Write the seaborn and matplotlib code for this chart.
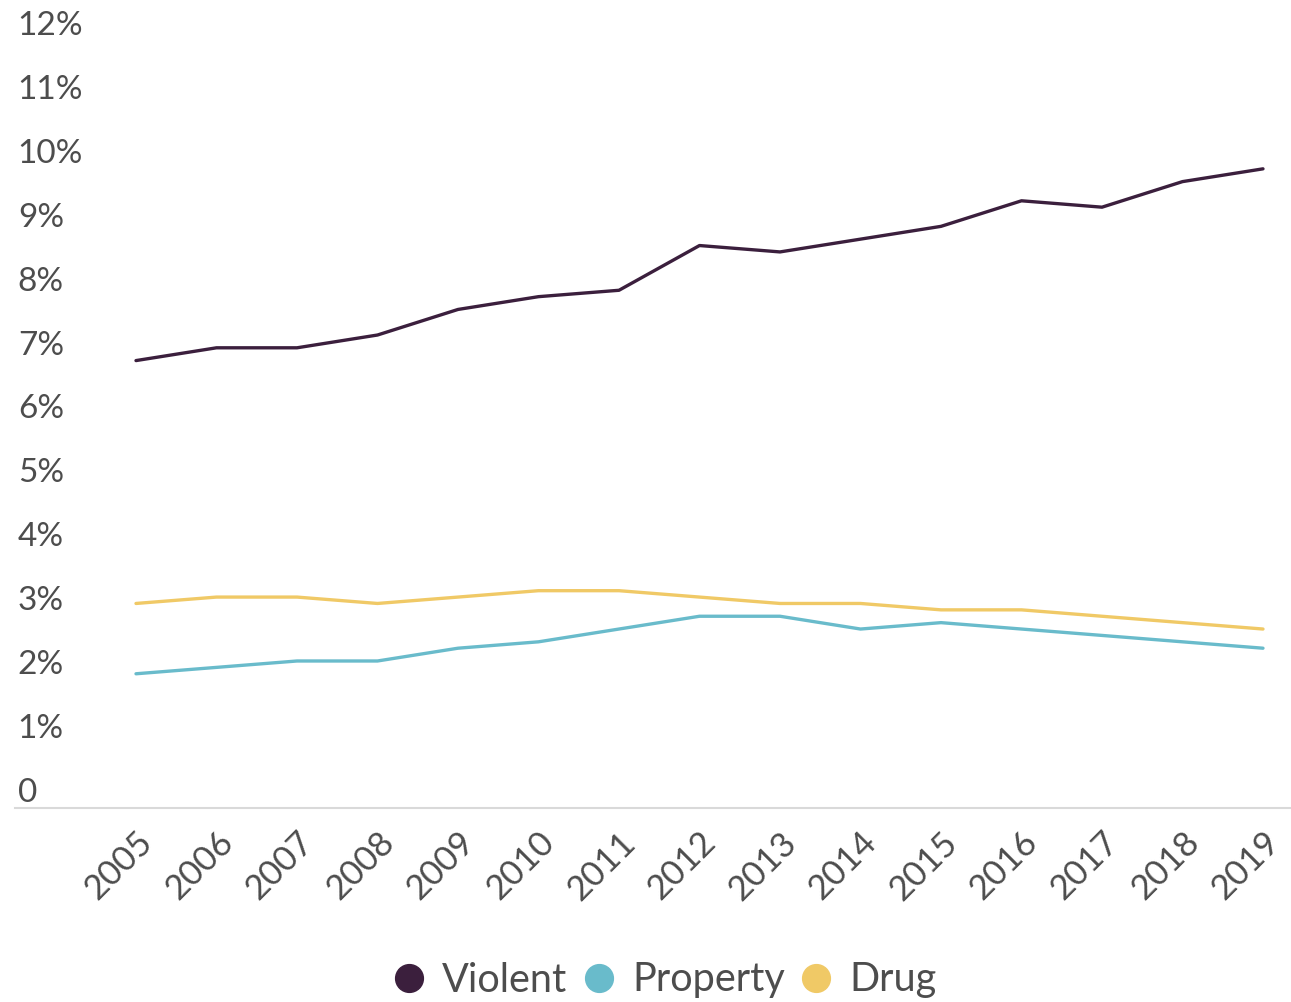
import matplotlib
matplotlib.use("Agg")
import matplotlib.pyplot as plt
import matplotlib.transforms as mtransforms
from matplotlib.lines import Line2D
import seaborn as sns
import pandas as pd

years = list(range(2005, 2020))
violent = [7.0, 7.2, 7.2, 7.4, 7.8, 8.0, 8.1, 8.8, 8.7, 8.9, 9.1, 9.5, 9.4, 9.8, 10.0]
property_ = [2.1, 2.2, 2.3, 2.3, 2.5, 2.6, 2.8, 3.0, 3.0, 2.8, 2.9, 2.8, 2.7, 2.6, 2.5]
drug = [3.2, 3.3, 3.3, 3.2, 3.3, 3.4, 3.4, 3.3, 3.2, 3.2, 3.1, 3.1, 3.0, 2.9, 2.8]
series_names = ["Violent", "Property", "Drug"]
colors = ["#3b1f3d", "#69bbcb", "#f0c966"]
ytick_vals = list(range(0, 13))
ytick_labels = ["0"] + [f"{v}%" for v in range(1, 13)]

df = pd.DataFrame({
    "Year": years * 3,
    "Rate": violent + property_ + drug,
    "Type": sum([[n] * len(years) for n in series_names], []),
})

sns.set_theme(style="white")
plt.rcParams["font.family"] = ["Lato", "DejaVu Sans"]
TXT = "#4d4d4d"

W, H = 1291, 1002
fig = plt.figure(figsize=(W / 100, H / 100), dpi=100)
ax = fig.add_axes([15 / W, 1 - 808 / H, 1 - 15 / W, (808 - 41) / H])

sns.lineplot(data=df, x="Year", y="Rate", hue="Type", palette=colors,
             hue_order=series_names, linewidth=2.4, ax=ax, legend=False)

ax.set_xlim(2003.497, 2003.497 + 1276 / 80.5)
ax.set_ylim(0, 12)
ax.set_xlabel("")
ax.set_ylabel("")
for s in ["top", "right", "left"]:
    ax.spines[s].set_visible(False)
ax.spines["bottom"].set_color("#d9d9d9")
ax.spines["bottom"].set_linewidth(1.5)

ax.set_yticks(ytick_vals)
ax.set_yticklabels(ytick_labels, fontsize=24, color=TXT, ha="left", va="bottom")
ax.tick_params(axis="y", length=0, pad=-2)
ax.set_xticks(years)
ax.set_xticklabels([str(y) for y in years], fontsize=25, color=TXT,
                   rotation=45, ha="right", va="top", rotation_mode="anchor")
ax.tick_params(axis="x", length=0, pad=13)
shift = mtransforms.ScaledTranslation(0 / 100, 0, fig.dpi_scale_trans)
for lab in ax.get_xticklabels():
    lab.set_transform(lab.get_transform() + shift)

handles = [Line2D([0], [0], marker="o", linestyle="", markersize=20,
                  markerfacecolor=c, markeredgecolor=c) for c in colors]
leg = fig.legend(handles, series_names, loc="center", bbox_to_anchor=(663 / W, 1 - 980 / H),
                 ncol=3, frameon=False, fontsize=28.5, handletextpad=0.33,
                 columnspacing=0.3, handlelength=1.0)
for t in leg.get_texts():
    t.set_color(TXT)

fig.savefig("out.png", dpi=100)
